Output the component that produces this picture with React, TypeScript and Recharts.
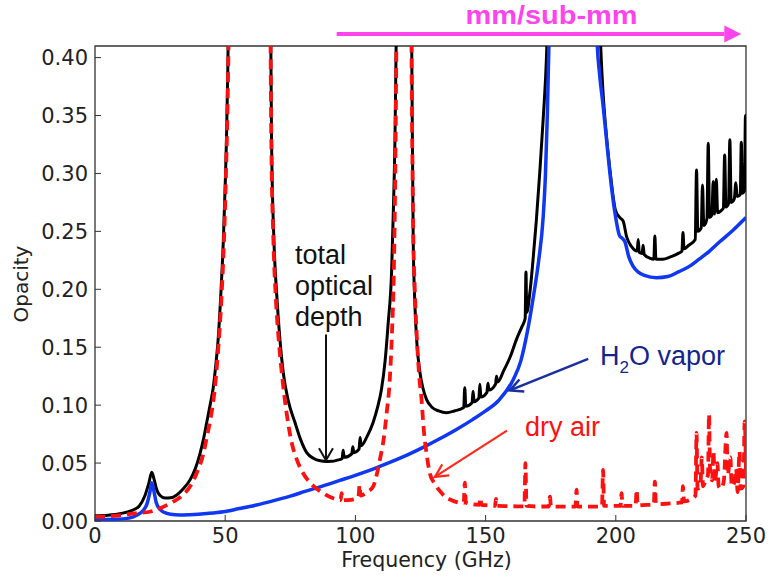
import React from 'react';
import {LineChart, Line, XAxis, YAxis, ReferenceArea, ReferenceLine, ReferenceDot} from 'recharts';

type Pt = [number, number];

// frequency in GHz, opacity (zenith optical depth)
const freqTicks = [0, 50, 100, 150, 200, 250];
const opacityTicks = [0, 0.05, 0.1, 0.15, 0.2, 0.25, 0.3, 0.35, 0.4];

const totalOpacity: Pt[] = [
  [0, 0.0045], [5, 0.005], [10, 0.0065], [14, 0.009], [17, 0.013], [19.2, 0.022], [20.6, 0.032],
  [21.8, 0.042], [22.8, 0.035], [23.7, 0.027], [25, 0.022], [26.9, 0.0198], [29, 0.02], [31.4, 0.0225],
  [34, 0.028], [36.5, 0.0355], [38.5, 0.045], [40.3, 0.058], [41.6, 0.07], [42.9, 0.085], [44.2, 0.1],
  [45.4, 0.115], [46.4, 0.135], [47.3, 0.157], [48.3, 0.195], [49.3, 0.243], [50, 0.29], [50.5, 0.33],
  [51, 0.39], [51.5, 0.48], [52.5, 0.7], [60, 1.5], [66.5, 0.7], [67.4, 0.45], [67.8, 0.33], [68.7, 0.243],
  [69.8, 0.195], [71, 0.157], [72.3, 0.128], [74.3, 0.103], [76.8, 0.085], [79, 0.07], [81.3, 0.059],
  [84, 0.054], [86.5, 0.052], [88.9, 0.0514], [91, 0.0515], [93, 0.0525], [94.9, 0.054], [95.3, 0.061],
  [95.7, 0.055], [98.6, 0.058], [99, 0.064], [99.4, 0.059], [101.4, 0.062], [101.8, 0.072], [102.2, 0.065],
  [104.5, 0.073], [106.8, 0.085], [108.5, 0.098], [110, 0.1135], [111.4, 0.138], [112.6, 0.171],
  [113.9, 0.215], [114.6, 0.27], [115.2, 0.33], [115.7, 0.42], [116.5, 0.7], [118.75, 2], [120.8, 0.7],
  [121.6, 0.42], [122.2, 0.243], [122.8, 0.19], [123.5, 0.157], [124.8, 0.128], [125.9, 0.115],
  [127.3, 0.105], [129.5, 0.098], [132, 0.095], [135, 0.0935], [138, 0.095], [141.6, 0.098], [142, 0.115],
  [142.4, 0.099], [144.8, 0.102], [145.2, 0.112], [145.6, 0.103], [147.4, 0.106], [147.8, 0.118],
  [148.2, 0.107], [150.5, 0.111], [150.9, 0.119], [151.3, 0.113], [153.8, 0.118], [154.2, 0.125],
  [154.6, 0.12], [157, 0.13], [159.5, 0.142], [161.9, 0.157], [164, 0.168], [165.2, 0.175], [165.5, 0.215],
  [165.8, 0.18], [167, 0.197], [168.2, 0.225], [169.5, 0.26], [170.8, 0.301], [172.2, 0.35], [173.4, 0.402],
  [174.5, 0.5], [176, 0.8], [183.3, 2], [191, 0.8], [193, 0.5], [194.2, 0.41], [195.1, 0.37], [196.5, 0.33],
  [197.9, 0.3], [199.9, 0.268], [201.5, 0.262], [202.8, 0.259], [204.2, 0.245], [206, 0.237],
  [208.2, 0.233], [208.6, 0.243], [209, 0.232], [210.1, 0.231], [210.5, 0.238], [210.9, 0.23], [213, 0.227],
  [214.6, 0.226], [215, 0.246], [215.4, 0.226], [218, 0.226], [221, 0.228], [224, 0.231], [225.4, 0.233],
  [225.8, 0.249], [226.2, 0.235], [228, 0.238], [230.5, 0.243], [231, 0.303], [231.5, 0.25], [232.8, 0.253],
  [233.3, 0.29], [233.8, 0.255], [235, 0.261], [235.5, 0.326], [236, 0.262], [236.9, 0.264], [237.4, 0.293],
  [237.9, 0.265], [238.6, 0.295], [239.1, 0.266], [240.5, 0.268], [241.3, 0.27], [241.8, 0.316],
  [242.3, 0.271], [243.3, 0.274], [243.8, 0.329], [244.3, 0.275], [245.5, 0.278], [246.1, 0.292],
  [246.6, 0.28], [247.8, 0.282], [248.2, 0.327], [248.6, 0.283], [249.4, 0.285], [249.8, 0.35], [250, 0.29],
];

const waterOpacity: Pt[] = [
  [0, 0.0012], [8, 0.0015], [13, 0.0025], [16, 0.005], [18.5, 0.009], [20, 0.015], [21, 0.024],
  [21.8, 0.033], [22.6, 0.026], [23.5, 0.016], [25, 0.01], [26.5, 0.0075], [29, 0.0058], [32.6, 0.0052],
  [36.5, 0.0055], [43, 0.0065], [49.3, 0.008], [55, 0.0105], [62, 0.0138], [68, 0.0172], [75, 0.0215],
  [81, 0.0258], [87.6, 0.0303], [94, 0.035], [100.5, 0.0398], [107, 0.045], [113.2, 0.0505], [120, 0.057],
  [126, 0.0635], [132, 0.0705], [138.8, 0.079], [145, 0.0875], [150, 0.095], [155, 0.104], [160.6, 0.122],
  [163.5, 0.138], [166, 0.163], [168.3, 0.193], [170.4, 0.225], [172.1, 0.262], [173, 0.3], [173.7, 0.35],
  [174.3, 0.41], [175, 0.5], [177, 0.9], [183.3, 2.5], [190, 0.9], [192, 0.5], [192.7, 0.42],
  [193.8, 0.385], [195.1, 0.359], [196.4, 0.33], [197.7, 0.301], [199.6, 0.267], [201.5, 0.246],
  [202.5, 0.244], [203.5, 0.241], [205, 0.228], [206.6, 0.22], [208.5, 0.215], [211, 0.212], [215.6, 0.21],
  [220, 0.211], [224, 0.215], [228.4, 0.22], [232, 0.226], [236, 0.233], [239.9, 0.241], [245, 0.251],
  [250, 0.262],
];

const dryOpacity: Pt[] = [
  [0, 0.0035], [5, 0.004], [10, 0.005], [15, 0.0065], [21.1, 0.008], [25, 0.011], [30, 0.0167],
  [33.5, 0.022], [36.5, 0.0297], [39, 0.041], [41.6, 0.058], [43, 0.073], [44.5, 0.09], [45.8, 0.11],
  [47.2, 0.145], [48.5, 0.19], [49.5, 0.24], [50.3, 0.3], [51, 0.37], [51.5, 0.45], [52.5, 0.7], [60, 1.5],
  [66.5, 0.7], [67.3, 0.45], [67.7, 0.33], [68.5, 0.243], [69.5, 0.19], [70.6, 0.155], [72, 0.122],
  [73.6, 0.093], [75.5, 0.068], [77.5, 0.053], [80, 0.041], [83.5, 0.031], [87.7, 0.024], [91, 0.02],
  [94.3, 0.018], [94.7, 0.024], [95.1, 0.018], [97, 0.018], [100, 0.019], [101.2, 0.021], [101.6, 0.031],
  [102, 0.022], [104.5, 0.025], [106.8, 0.0297], [108.2, 0.04], [109.4, 0.053], [110.8, 0.07], [112, 0.093],
  [113.2, 0.122], [114, 0.16], [114.8, 0.22], [115.3, 0.3], [115.7, 0.4], [116.5, 0.7], [118.75, 2],
  [120.8, 0.7], [121.5, 0.42], [122.2, 0.25], [122.8, 0.2], [123.5, 0.163], [124.5, 0.125], [125.4, 0.105],
  [126.2, 0.08], [127.4, 0.057], [128.6, 0.041], [130.5, 0.032], [132.4, 0.026], [134.5, 0.021], [137, 0.018],
  [139.5, 0.016], [141.6, 0.0155], [142, 0.033], [142.4, 0.016], [145, 0.0145], [147.6, 0.014], [148, 0.02],
  [148.4, 0.014], [151, 0.0135], [153.6, 0.013], [154, 0.019], [154.4, 0.013], [158, 0.0128], [162, 0.0127],
  [164.9, 0.0127], [165.3, 0.05], [165.7, 0.013], [170, 0.0125], [174.3, 0.0125], [174.7, 0.021],
  [175.1, 0.0125], [180, 0.0124], [184.5, 0.0125], [184.9, 0.027], [185.3, 0.0125], [190, 0.0124],
  [194.7, 0.0126], [195.1, 0.044], [195.5, 0.013], [198.5, 0.013], [201.8, 0.013], [202.2, 0.024],
  [202.6, 0.013], [207.6, 0.013], [208, 0.027], [208.4, 0.0135], [212, 0.014], [214.6, 0.014], [215, 0.034],
  [215.4, 0.0145], [220, 0.015], [225.4, 0.016], [225.8, 0.03], [226.2, 0.017], [229, 0.019], [230.6, 0.022],
  [231, 0.076], [231.4, 0.028], [232.5, 0.03], [233, 0.055], [233.5, 0.03], [234.5, 0.035], [235.4, 0.04],
  [235.8, 0.092], [236.2, 0.045], [237, 0.035], [237.5, 0.06], [238, 0.033], [239, 0.05], [239.5, 0.03],
  [240.5, 0.028], [241.5, 0.035], [242.5, 0.076], [243, 0.04], [244, 0.055], [244.5, 0.03], [245.5, 0.033],
  [246.2, 0.045], [246.8, 0.025], [247.5, 0.06], [248, 0.028], [249, 0.03], [249.5, 0.086], [250, 0.04],
];

const toRows = (pts: Pt[]) => pts.map(([f, v]) => ({f, v}));

const TICK_FONT = '"DejaVu Sans", sans-serif';
const NOTE_FONT = '"Liberation Sans", Arial, sans-serif';
const FRAME = '#333';

const BottomTick = ({x, y, payload}: any) => (
  <g>
    <line x1={x} y1={y} x2={x} y2={y - 6} stroke={FRAME}/>
    <text x={x} y={y + 22} textAnchor="middle" fontSize={21} fontFamily={TICK_FONT} fill="#222">{payload.value}</text>
  </g>
);
const TopTick = ({x, y}: any) => <line x1={x} y1={y} x2={x} y2={y + 6} stroke={FRAME}/>;
const LeftTick = ({x, y, payload}: any) => (
  <g>
    <line x1={x} y1={y} x2={x + 6} y2={y} stroke={FRAME}/>
    <text x={x - 7} y={y + 7.5} textAnchor="end" fontSize={21} fontFamily={TICK_FONT} fill="#222">
      {Number(payload.value).toFixed(2)}
    </text>
  </g>
);
const RightTick = ({x, y}: any) => <line x1={x} y1={y} x2={x - 6} y2={y} stroke={FRAME}/>;

// arrow from segment start (tail) to segment end (head)
const arrowShape = (color: string, width: number, len: number, half: number, filled = false) => (p: any) => {
  const {x1, y1, x2, y2} = p;
  const a = Math.atan2(y2 - y1, x2 - x1);
  const bx = x2 - len * Math.cos(a);
  const by = y2 - len * Math.sin(a);
  const lx = bx + half * Math.sin(a);
  const ly = by - half * Math.cos(a);
  const rx = bx - half * Math.sin(a);
  const ry = by + half * Math.cos(a);
  return (
    <g>
      <line x1={x1} y1={y1} x2={filled ? bx : x2} y2={filled ? by : y2} stroke={color} strokeWidth={width}/>
      {filled
        ? <polygon points={`${lx},${ly} ${x2},${y2} ${rx},${ry}`} fill={color}/>
        : <polyline points={`${lx},${ly} ${x2},${y2} ${rx},${ry}`} fill="none" stroke={color} strokeWidth={width}/>}
    </g>
  );
};

const App = () => (
  <div style={{position: 'absolute', left: 0, top: 0, width: 769, height: 578, background: '#fff'}}>
    <LineChart width={769} height={578} margin={{top: 46, right: 23, bottom: 0, left: 0}}>
      <XAxis
        xAxisId="b" dataKey="f" type="number" domain={[0, 250]} ticks={freqTicks} interval={0}
        allowDataOverflow height={57} axisLine={false} tickLine={false} tickSize={0} tickMargin={0}
        tick={<BottomTick/>}
        label={{
          content: (p: any) => (
            <text x={p.viewBox.x + p.viewBox.width / 2 + 6} y={p.viewBox.y + 46} textAnchor="middle"
                  fontSize={20.5} fontFamily={TICK_FONT} fill="#222">Frequency (GHz)</text>
          ),
        }}
      />
      <XAxis
        xAxisId="t" orientation="top" type="number" domain={[0, 250]} ticks={freqTicks} interval={0}
        height={0} axisLine={false} tickLine={false} tickSize={0} tickMargin={0} tick={<TopTick/>}
      />
      <YAxis
        yAxisId="l" type="number" domain={[0, 0.41]} ticks={opacityTicks} interval={0} allowDataOverflow
        width={95} axisLine={false} tickLine={false} tickSize={0} tickMargin={0} tick={<LeftTick/>}
        label={{
          content: () => (
            <text x={28} y={284} transform="rotate(-90, 28, 284)" textAnchor="middle"
                  fontSize={20} fontFamily={TICK_FONT} fill="#222">Opacity</text>
          ),
        }}
      />
      <YAxis
        yAxisId="r" orientation="right" type="number" domain={[0, 0.41]} ticks={opacityTicks} interval={0}
        width={0} axisLine={false} tickLine={false} tickSize={0} tickMargin={0} tick={<RightTick/>}
      />
      <ReferenceArea xAxisId="b" yAxisId="l" x1={0} x2={250} y1={0} y2={0.41} ifOverflow="visible"
                     fill="none" fillOpacity={0} stroke={FRAME} strokeWidth={1.3}/>

      <Line xAxisId="b" yAxisId="l" data={toRows(totalOpacity)} dataKey="v" type="monotone"
            stroke="#000" strokeWidth={3} dot={false} activeDot={false} isAnimationActive={false}/>
      <Line xAxisId="b" yAxisId="l" data={toRows(waterOpacity)} dataKey="v" type="monotone"
            stroke="#1038f2" strokeWidth={3.5} dot={false} activeDot={false} isAnimationActive={false}/>
      <Line xAxisId="b" yAxisId="l" data={toRows(dryOpacity)} dataKey="v" type="monotone"
            stroke="#ff1010" strokeWidth={3.8} strokeDasharray="10 6" dot={false} activeDot={false}
            isAnimationActive={false}/>

      <ReferenceDot xAxisId="b" yAxisId="l" x={76.8} y={0.2218} r={0} ifOverflow="visible"
                    shape={(p: any) => (
                      <text x={p.cx} y={p.cy} fontSize={27} fontFamily={NOTE_FONT} fill="#111">
                        <tspan x={p.cx}>total</tspan>
                        <tspan x={p.cx} dy={31}>optical</tspan>
                        <tspan x={p.cx} dy={31}>depth</tspan>
                      </text>
                    )}/>
      <ReferenceLine xAxisId="b" yAxisId="l" ifOverflow="visible"
                     segment={[{x: 88.7, y: 0.161}, {x: 88.7, y: 0.0525}]}
                     shape={arrowShape('#111', 2, 12, 7)}/>

      <ReferenceDot xAxisId="b" yAxisId="l" x={193.9} y={0.1343} r={0} ifOverflow="visible"
                    shape={(p: any) => (
                      <text x={p.cx} y={p.cy} fontSize={27} fontFamily={NOTE_FONT} fill="#14248f">
                        H<tspan fontSize={17} dy={8}>2</tspan><tspan dy={-8}>O vapor</tspan>
                      </text>
                    )}/>
      <ReferenceLine xAxisId="b" yAxisId="l" ifOverflow="visible"
                     segment={[{x: 189.4, y: 0.14}, {x: 159.3, y: 0.1127}]}
                     shape={arrowShape('#1a2fa0', 2.5, 13, 6.5)}/>

      <ReferenceDot xAxisId="b" yAxisId="l" x={165.1} y={0.0731} r={0} ifOverflow="visible"
                    shape={(p: any) => (
                      <text x={p.cx} y={p.cy} fontSize={27} fontFamily={NOTE_FONT} fill="#ff1111">dry air</text>
                    )}/>
      <ReferenceLine xAxisId="b" yAxisId="l" ifOverflow="visible"
                     segment={[{x: 158.2, y: 0.078}, {x: 130.5, y: 0.0381}]}
                     shape={arrowShape('#ff2a1a', 2.2, 13, 6.5)}/>

      <ReferenceDot xAxisId="b" yAxisId="l" x={175.3} y={0.4289} r={0} ifOverflow="visible"
                    shape={(p: any) => (
                      <text x={p.cx} y={p.cy} textAnchor="middle" fontSize={25} fontWeight="bold"
                            textLength={172} lengthAdjust="spacingAndGlyphs"
                            fontFamily={NOTE_FONT} fill="#ff44ee">mm/sub-mm</text>
                    )}/>
      <ReferenceLine xAxisId="b" yAxisId="l" ifOverflow="visible"
                     segment={[{x: 92.8, y: 0.4203}, {x: 248.2, y: 0.4203}]}
                     shape={arrowShape('#ff44ee', 4, 17, 8.5, true)}/>
    </LineChart>
  </div>
);

export default App;
